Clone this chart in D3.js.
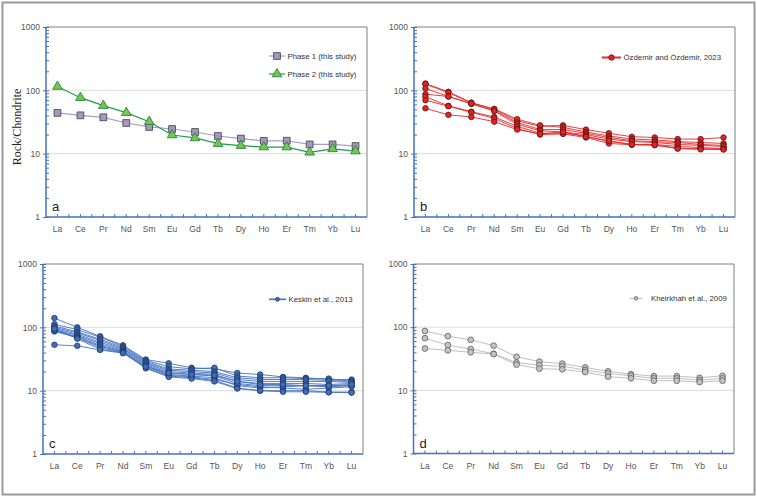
<!DOCTYPE html>
<html>
<head>
<meta charset="utf-8">
<script src="https://cdn.jsdelivr.net/npm/d3@7"></script>
<style>
  body { margin: 0; background: #fff; }
  svg text { font-family: "Liberation Sans", Arial, sans-serif; }
</style>
</head>
<body>
<div id="chart"></div>
<script>
// REE chondrite-normalised patterns, four panels

var elements = ["La","Ce","Pr","Nd","Sm","Eu","Gd","Tb","Dy","Ho","Er","Tm","Yb","Lu"];
var yTicks = [1, 10, 100, 1000];

// panel a
var phase1 = [44, 40.3, 37.5, 30.5, 26.4, 24.5, 22, 19, 17.3, 15.9, 16, 14, 14, 13.2];
var phase2 = [115, 76.6, 57.3, 44.4, 32, 19.7, 17.7, 14.4, 13.4, 12.7, 12.7, 10.5, 11.9, 11];

// panel b
var ozdemir = [
  [128, 95, 64, 50, 33, 27, 28, 24, 21, 18.5, 18, 17, 17, 18],
  [125, 92, 63, 51, 35, 28, 26, 22, 19, 17, 16.5, 15.5, 15, 14.5],
  [107, 80, 61, 48, 31, 24, 24, 21, 18, 16, 15.5, 15, 14, 13.5],
  [87, 80, 62, 47, 29, 23, 22, 20, 17, 15.5, 15, 14, 13.5, 13],
  [79, 57, 46, 38, 27, 21, 21, 19, 15.5, 14, 14, 13, 12.5, 12],
  [70, 56, 45, 36, 25, 20, 20.5, 18, 14.5, 13.8, 13.6, 12.2, 12, 11.8],
  [52, 41, 38, 32, 24, 20.5, 22, 18.5, 16, 14, 13.8, 12, 11.7, 11.6]
];

// panel c
var keskin = [
  [140, 100, 72, 52, 31, 27, 23, 22, 19, 18, 16.5, 16, 15, 15],
  [112, 92, 70, 50, 30, 24, 22, 23, 17, 16, 16, 15.5, 15.5, 14],
  [105, 85, 65, 48, 29, 22, 21, 20, 16, 15, 15, 15, 14.5, 14],
  [100, 82, 62, 46, 28, 21, 20, 19, 15, 14, 14, 14, 14, 13.5],
  [96, 78, 58, 45, 27, 20, 19, 18, 14, 13, 13, 13, 12.5, 13],
  [92, 75, 55, 43, 26, 19, 18, 17, 13, 12, 12, 12, 12, 12],
  [88, 72, 52, 42, 25, 18, 17, 16, 12, 11, 11.5, 12, 11.5, 12],
  [86, 70, 50, 41, 24, 17.5, 16.5, 15, 12.5, 11.5, 11, 10.5, 11, 11.5],
  [90, 68, 48, 40, 23, 17, 16, 14.5, 11, 10, 10, 10, 9.5, 9.5],
  [95, 66, 45, 40, 22.5, 16.5, 15.5, 14, 10.8, 10, 9.6, 9.6, 9.4, 9.3],
  [53, 51, 44, 39, 24, 19, 18, 17.5, 14, 12.5, 12.5, 12, 12, 12.5]
];

// panel d
var kheirkhah = [
  [87, 72, 63, 51, 34, 28.5, 26.5, 23, 20, 18, 16.8, 16.8, 15.8, 17],
  [67, 52, 45, 38, 27.5, 25, 24, 21, 18.5, 17, 15.5, 15.5, 14.5, 15.5],
  [46, 43, 40, 37.5, 25.5, 22, 21.5, 19.5, 16.5, 15.5, 14.2, 14.2, 13.5, 14.2]
];

var W = 757, H = 497;
var axisBlue = "#4472c4";

var svg = d3.select("#chart").append("svg")
  .attr("width", W)
  .attr("height", H);

// outer frame
svg.append("rect")
  .attr("x", 2.5).attr("y", 2.5)
  .attr("width", 752).attr("height", 492)
  .attr("fill", "none").attr("stroke", "#9a9a9a").attr("stroke-width", 2);

var panels = [
  { letter: "a", box: [46, 27, 367, 217],
    series: [
      { rows: [phase1], name: "Phase 1 (this study)", shape: d3.symbolSquare, size: 46,
        line: "#a99ccc", fill: "#a597c4", stroke: "#3f3f3f", lw: 1.2 },
      { rows: [phase2], name: "Phase 2 (this study)", shape: d3.symbolTriangle, size: 40,
        line: "#1f9e48", fill: "#72c84f", stroke: "#1d7a35", lw: 1.2 }
    ],
    legend: { x: 269, y: 56, len: 16, dy: 18 } },
  { letter: "b", box: [414, 27, 735, 217],
    series: [
      { rows: ozdemir, name: "Özdemir and Özdemir, 2023", shape: d3.symbolCircle, size: 24,
        line: "#e8282b", fill: "#e52421", stroke: "#5a1515", lw: 0.9, legendLw: 2 }
    ],
    legend: { x: 602, y: 57.5, len: 19, dy: 18 } },
  { letter: "c", box: [43, 264, 363, 454],
    series: [
      { rows: keskin, name: "Keskin et al., 2013", shape: d3.symbolCircle, size: 24,
        line: "#4472c4", fill: "#3f6db8", stroke: "#1e3a6a", lw: 0.9, legendLw: 1.6, legendSize: 12 }
    ],
    legend: { x: 269, y: 299.3, len: 17, dy: 18 } },
  { letter: "d", box: [413.5, 264, 734, 453.5],
    series: [
      { rows: kheirkhah, name: "Kheirkhah et al., 2009", shape: d3.symbolCircle, size: 26,
        line: "#b8b8b8", fill: "#c4c4c4", stroke: "#5e5e5e", lw: 0.9, legendSize: 10 }
    ],
    legend: { x: 629, y: 298.3, len: 14, dy: 18, gap: 8 } }
];

panels.forEach(function(p) {
  var x0 = p.box[0], y0 = p.box[1], x1 = p.box[2], y1 = p.box[3];
  var g = svg.append("g");

  var x = d3.scaleBand().domain(elements).range([x0, x1]);
  var bw = x.bandwidth();
  var cx = function(e) { return x(e) + bw / 2; };
  var y = d3.scaleLog().domain([1, 1000]).range([y1, y0]);

  // grid lines
  g.selectAll("line.grid")
    .data([10, 100])
    .enter().append("line")
    .attr("x1", x0).attr("x2", x1)
    .attr("y1", d => y(d)).attr("y2", d => y(d))
    .attr("stroke", "#dcdcdc").attr("stroke-width", 1);

  // top and right frame
  g.append("path")
    .attr("d", "M" + x0 + "," + y0 + "H" + x1 + "V" + y1)
    .attr("fill", "none").attr("stroke", "#808080").attr("stroke-width", 1);

  // minor ticks on y axis (inside)
  var minor = g.append("g")
    .attr("transform", "translate(" + x0 + ",0)")
    .call(d3.axisRight(y).tickValues(y.ticks()).tickSize(3).tickFormat(""));
  minor.select(".domain").remove();
  minor.selectAll("line").attr("stroke", axisBlue);

  // major y ticks + labels
  var ya = g.append("g")
    .attr("transform", "translate(" + x0 + ",0)")
    .call(d3.axisLeft(y).tickValues(yTicks).tickSize(3).tickPadding(3).tickFormat(d3.format("d")));
  ya.select(".domain").remove();
  ya.selectAll("line").attr("stroke", axisBlue);
  ya.selectAll("text")
    .attr("fill", "#555")
    .style("font-size", "8.5px");

  // x axis labels
  var xa = g.append("g")
    .attr("transform", "translate(0," + y1 + ")")
    .call(d3.axisBottom(x).tickSize(0).tickPadding(9));
  xa.select(".domain").remove();
  xa.selectAll("text")
    .attr("fill", "#555")
    .style("font-size", "8.5px");

  // small upward ticks along x axis, every half category
  var half = d3.scaleLinear().domain([0, elements.length * 2]).range([x0, x1]);
  g.selectAll("line.xt")
    .data(d3.range(1, elements.length * 2))
    .enter().append("line")
    .attr("x1", d => half(d)).attr("x2", d => half(d))
    .attr("y1", y1).attr("y2", y1 - 3)
    .attr("stroke", axisBlue).attr("stroke-width", 1);

  // blue axis lines
  g.append("path")
    .attr("d", "M" + x0 + "," + y0 + "V" + y1 + "H" + x1)
    .attr("fill", "none").attr("stroke", axisBlue).attr("stroke-width", 1.5);

  // series
  var lineGen = d3.line()
    .x((d, i) => cx(elements[i]))
    .y(d => y(d));

  p.series.forEach(function(s) {
    var sg = g.append("g");
    sg.selectAll("path.ln")
      .data(s.rows)
      .enter().append("path")
      .attr("d", lineGen)
      .attr("fill", "none")
      .attr("stroke", s.line)
      .attr("stroke-width", s.lw);
    var sym = d3.symbol().type(s.shape).size(s.size);
    s.rows.forEach(function(row) {
      sg.selectAll(null)
        .data(row)
        .enter().append("path")
        .attr("d", sym)
        .attr("transform", (d, i) => "translate(" + cx(elements[i]) + "," + y(d) + ")")
        .attr("fill", s.fill)
        .attr("stroke", s.stroke)
        .attr("stroke-width", 0.8);
    });
  });

  // legend
  var lg = g.append("g");
  p.series.forEach(function(s, i) {
    var ly = p.legend.y + i * p.legend.dy;
    var lx = p.legend.x;
    lg.append("line")
      .attr("x1", lx).attr("x2", lx + p.legend.len)
      .attr("y1", ly).attr("y2", ly)
      .attr("stroke", s.line)
      .attr("stroke-width", s.legendLw || s.lw);
    lg.append("path")
      .attr("d", d3.symbol().type(s.shape).size(s.legendSize || s.size))
      .attr("transform", "translate(" + (lx + p.legend.len / 2) + "," + ly + ")")
      .attr("fill", s.fill)
      .attr("stroke", s.stroke)
      .attr("stroke-width", 0.8);
    lg.append("text")
      .attr("x", lx + p.legend.len + (p.legend.gap || 2.5))
      .attr("y", ly)
      .attr("dominant-baseline", "central")
      .attr("fill", "#333")
      .style("font-size", "7.8px")
      .text(s.name);
  });

  // panel letter
  g.append("text")
    .attr("x", x0 + 6)
    .attr("y", y1 - 6)
    .attr("fill", "#222")
    .style("font-size", "13px")
    .text(p.letter);
});

// y axis title (panel a only)
svg.append("text")
  .attr("transform", "translate(21,127) rotate(-90)")
  .attr("text-anchor", "middle")
  .attr("fill", "#222")
  .style("font-family", "'Liberation Serif', 'Times New Roman', serif")
  .style("font-size", "12px")
  .text("Rock/Chondrite");
</script>
</body>
</html>
